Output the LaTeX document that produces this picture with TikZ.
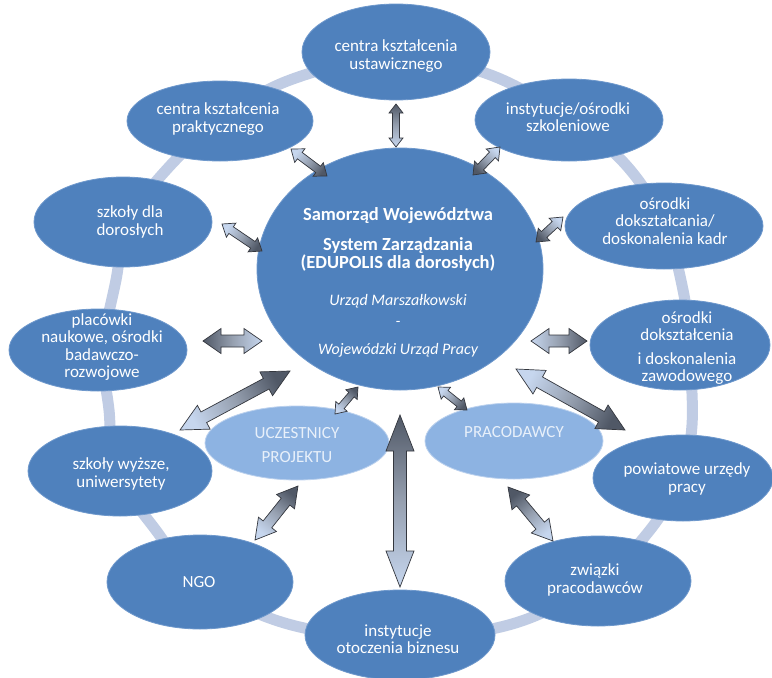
\documentclass[tikz,border=0pt]{standalone}
\usepackage{fontspec}
\setmainfont{Carlito}
\usetikzlibrary{shapes.geometric,calc}

\definecolor{nodeblue}{RGB}{79,129,189}
\definecolor{nodeedge}{RGB}{110,152,204}
\definecolor{nodelight}{RGB}{141,179,226}
\definecolor{ringcol}{RGB}{192,204,228}
\definecolor{arrdark}{RGB}{80,88,102}
\definecolor{arrmid}{RGB}{150,160,176}
\definecolor{arrlight}{RGB}{198,214,238}
\definecolor{arrline}{RGB}{52,55,62}
\definecolor{lighttext}{RGB}{232,240,250}

% block double arrow from #1 (light end) to #2 (dark end);
% #3 shaft half width, #4 head half width, #5 head length (all in pt)
\newcommand\dblarr[5]{%
  \pgfmathanglebetweenpoints{\pgfpointanchor{#1}{center}}{\pgfpointanchor{#2}{center}}%
  \edef\arrtmp{\pgfmathresult}%
  \pgfmathsetmacro\arrang{\arrtmp-90}%
  \path[arrowbody, shading angle=\arrang]
    (#1)
    -- ($(#1)!#5pt!(#2)!#4pt!90:(#2)$)
    -- ($(#1)!#5pt!(#2)!#3pt!90:(#2)$)
    -- ($(#2)!#5pt!(#1)!#3pt!-90:(#1)$)
    -- ($(#2)!#5pt!(#1)!#4pt!-90:(#1)$)
    -- (#2)
    -- ($(#2)!#5pt!(#1)!#4pt!90:(#1)$)
    -- ($(#2)!#5pt!(#1)!#3pt!90:(#1)$)
    -- ($(#1)!#5pt!(#2)!#3pt!-90:(#2)$)
    -- ($(#1)!#5pt!(#2)!#4pt!-90:(#2)$)
    -- cycle;
}

\begin{document}
\begin{tikzpicture}[x=1pt,y=-1pt,
  blob/.style={ellipse, fill=nodeblue, draw=nodeedge, line width=0.8pt, inner sep=0pt},
  lightblob/.style={blob, fill=nodelight, draw=white!40!nodelight},
  lbl/.style={text=white, align=center, inner sep=0pt, font=\fontsize{17}{17.5}\selectfont},
  lightlbl/.style={lbl, text=lighttext},
  ctext/.style={text=white, inner sep=0pt, anchor=base},
  arrowbody/.style={draw=arrline, line width=0.7pt, line join=miter,
    shading=axis, top color=arrdark, bottom color=arrlight, middle color=arrmid},
  ring/.style={draw=ringcol, line width=11pt},
]
\fill[white] (0,0) rectangle (772,678);
\useasboundingbox (0,0) rectangle (772,678);

% connecting ring behind the outer circle of partners
\draw[ring] plot[smooth cycle, tension=0.6] coordinates {
  (396,56) (488,74) (569,118) (626,165) (664,224) (683,290) (689,345)
  (692,425) (680,478) (650,530) (598,581) (512,624) (400,638) (288,624)
  (200,582) (155,529) (116,471) (109,410) (103,350) (116,280) (128,222)
  (168,168) (220,121) (290,80)};

% outer ring of partners
\node[blob, minimum width=188pt, minimum height=96pt] (ust)   at (396,52)  {};
\node[blob, minimum width=186pt, minimum height=80pt] (prak)  at (220,121) {};
\node[blob, minimum width=188pt, minimum height=82pt] (inst)  at (569,120) {};
\node[blob, minimum width=178pt, minimum height=90pt] (dla)   at (123,222) {};
\node[blob, minimum width=198pt, minimum height=86pt] (kadr)  at (664,226) {};
\node[blob, minimum width=178pt, minimum height=82pt] (plac)  at (98,350)  {};
\node[blob, minimum width=180pt, minimum height=90pt] (zaw)   at (680,345) {};
\node[blob, minimum width=184pt, minimum height=90pt] (wyz)   at (120,471) {};
\node[blob, minimum width=180pt, minimum height=86pt] (pow)   at (683,478) {};
\node[blob, minimum width=186pt, minimum height=94pt] (ngo)   at (200,582) {};
\node[blob, minimum width=186pt, minimum height=90pt] (zwi)   at (598,581) {};
\node[blob, minimum width=190pt, minimum height=90pt] (otocz) at (400,635) {};

% inner partners
\node[lightblob, minimum width=184pt, minimum height=74pt] (ucz)  at (297,443) {};
\node[lightblob, minimum width=178pt, minimum height=76pt] (prac) at (514,441) {};

% central body
\node[blob, minimum width=286pt, minimum height=242pt] (central) at (400,269) {};

% labels
\node[lbl] (ust-t)   at (396,56)  {centra kształcenia\\ustawicznego};
\node[lbl] (prak-t)  at (218,119) {centra kształcenia\\praktycznego};
\node[lbl] (inst-t)  at (568,117) {instytucje/ośrodki\\szkoleniowe};
\node[lbl] (dla-t)   at (130,222) {szkoły dla\\dorosłych};
\node[lbl] (kadr-t)  at (665,221) {ośrodki\\dokształcania/\\doskonalenia kadr};
\node[lbl] (plac-t)  at (102,347) {placówki\\naukowe, ośrodki\\badawczo-\\rozwojowe};
\node[lbl] (zaw-t)   at (687,348) {ośrodki\\dokształcenia\\[6pt]i doskonalenia\\zawodowego};
\node[lbl] (wyz-t)   at (121,474) {szkoły wyższe,\\uniwersytety};
\node[lbl] (pow-t)   at (687,479) {powiatowe urzędy\\pracy};
\node[lbl] (ngo-t)   at (199,582) {NGO};
\node[lbl] (zwi-t)   at (595,580) {związki\\pracodawców};
\node[lbl] (otocz-t) at (398,639) {instytucje\\otoczenia biznesu};
\node[lightlbl] (ucz-t)  at (297,445) {UCZESTNICY\\[7pt]PROJEKTU};
\node[lightlbl] (prac-t) at (514,432) {PRACODAWCY};

\node[ctext, font=\bfseries\fontsize{18.5}{20}\selectfont] (ct1) at (398,220) {Samorząd Województwa};
\node[ctext, font=\bfseries\fontsize{18.5}{20}\selectfont] (ct2) at (398,250) {System Zarządzania};
\node[ctext, font=\bfseries\fontsize{18.5}{20}\selectfont] (ct3) at (398,268) {(EDUPOLIS dla dorosłych)};
\node[ctext, font=\itshape\fontsize{16}{18}\selectfont] (ct4) at (398,305) {Urząd Marszałkowski};
\node[ctext, font=\itshape\fontsize{16}{18}\selectfont] (ct5) at (398,326) {-};
\node[ctext, font=\itshape\fontsize{16}{18}\selectfont] (ct6) at (398,354) {Wojewódzki Urząd Pracy};

% arrow end points
\coordinate (a1p) at (396,147);  \coordinate (a1q) at (396,104);
\coordinate (a2p) at (291,149);  \coordinate (a2q) at (327,176);
\coordinate (a3p) at (222,224);  \coordinate (a3q) at (262,251);
\coordinate (a4p) at (262,341);  \coordinate (a4q) at (203,341);
\coordinate (a5p) at (180,430);  \coordinate (a5q) at (290,371);
\coordinate (a6p) at (335,414);  \coordinate (a6q) at (358,387);
\coordinate (a7p) at (255,540);  \coordinate (a7q) at (298,486);
\coordinate (a8p) at (400,587);  \coordinate (a8q) at (400,415);
\coordinate (a9p) at (438,387);  \coordinate (a9q) at (467,410);
\coordinate (a10p) at (516,369); \coordinate (a10q) at (625,430);
\coordinate (a11p) at (531,341); \coordinate (a11q) at (587,341);
\coordinate (a12p) at (563,217); \coordinate (a12q) at (536,242);
\coordinate (a13p) at (500,147); \coordinate (a13q) at (473,175);
\coordinate (a14p) at (553,541); \coordinate (a14q) at (508,487);

% two-way links
\dblarr{a1p}{a1q}{3.5}{7}{9}
\dblarr{a2p}{a2q}{4}{8.5}{11}
\dblarr{a3p}{a3q}{4}{8.5}{11}
\dblarr{a4p}{a4q}{6}{12.5}{18}
\dblarr{a5p}{a5q}{6}{13.5}{27}
\dblarr{a6p}{a6q}{3.5}{7.5}{10}
\dblarr{a7p}{a7q}{5.5}{11.5}{20}
\dblarr{a8p}{a8q}{6.5}{14}{36}
\dblarr{a9p}{a9q}{3.5}{7.5}{10}
\dblarr{a10p}{a10q}{6}{13.5}{27}
\dblarr{a11p}{a11q}{6}{12.5}{18}
\dblarr{a12p}{a12q}{4}{8.5}{11}
\dblarr{a13p}{a13q}{4}{8.5}{11}
\dblarr{a14p}{a14q}{5.5}{11.5}{20}
\end{tikzpicture}
\end{document}
